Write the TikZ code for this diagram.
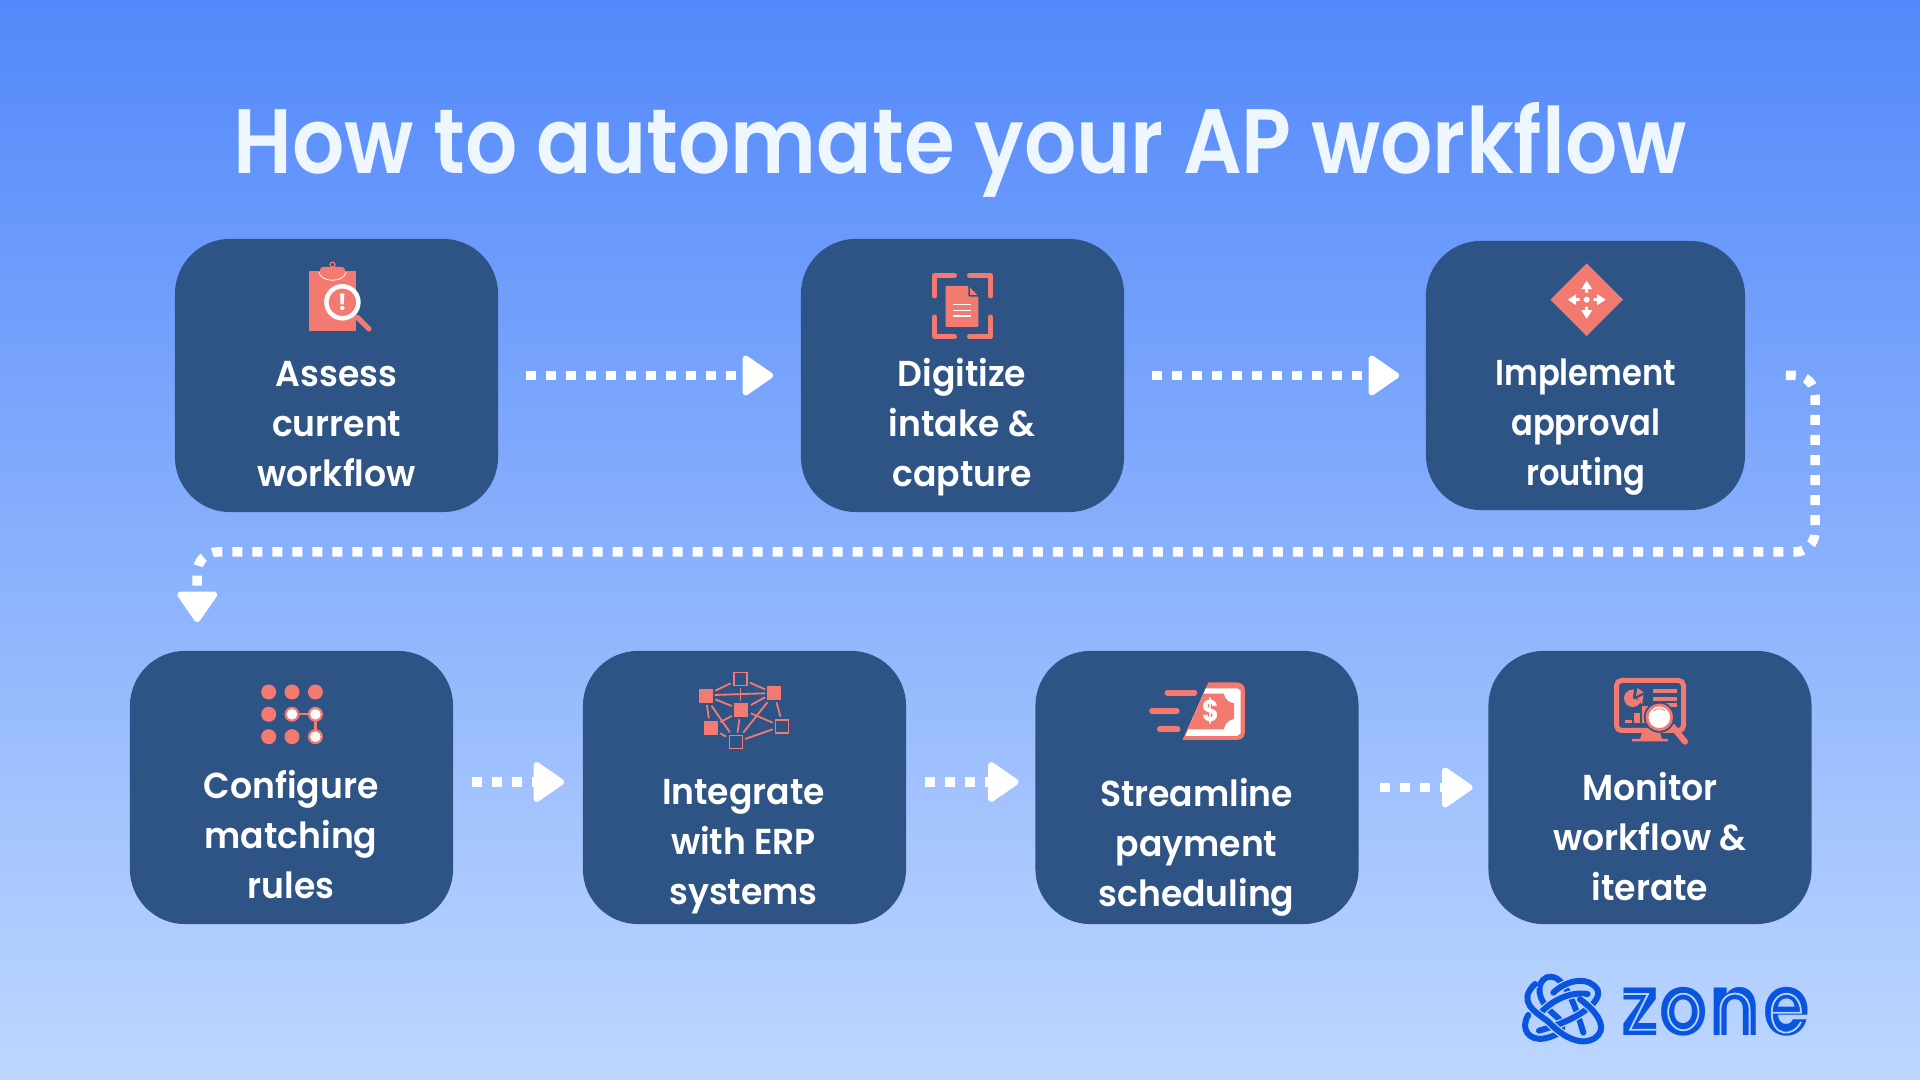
\documentclass[tikz,border=0pt]{standalone}
\usepackage{fontspec}
\setmainfont{Poppins}[UprightFont=* SemiBold,BoldFont=* Bold]
\usetikzlibrary{arrows.meta}
\definecolor{bgtop}{RGB}{82, 136, 250}
\definecolor{bgbot}{RGB}{190, 215, 255}
\definecolor{bglight}{RGB}{183, 211, 255}
\definecolor{boxblue}{RGB}{46, 84, 134}
\definecolor{coral}{RGB}{243, 122, 112}
\definecolor{titlewhite}{RGB}{238, 247, 255}
\definecolor{zoneblue}{RGB}{10, 85, 224}
\tikzset{
    stepbox/.style={fill=boxblue, rounded corners=0.55cm, inner sep=0, minimum width=3.23cm, minimum height=2.73cm},
    steplabel/.style={text=white, align=center, inner sep=0, font=\fontsize{10.25pt}{0.5cm}\selectfont, xscale=0.96},
    flow/.style={draw=white, line width=0.095cm, dash pattern=on 0.1cm off 0.1cm, -{Triangle[round,length=0.33cm,width=0.44cm,line width=0.06cm]}},
    iconline/.style={draw=coral, line width=0.05cm, line cap=round, line join=round},
    thinline/.style={draw=coral, line width=0.018cm},
    knotgap/.style={draw=bglight, line width=0.085cm},
    knotline/.style={draw=zoneblue, line width=0.06cm, line cap=round},
}
\begin{document}
\begin{tikzpicture}[x=0.01cm,y=-0.01cm]
    \useasboundingbox (0,0) rectangle (1920,1080);
    \shade[top color=bgtop, bottom color=bgbot] (0,0) rectangle (1920,1080);

    \node[text=titlewhite, anchor=base, inner sep=0, font=\fontsize{26pt}{30pt}\selectfont, xscale=0.897] (title) at (960,174) {How to automate your AP workflow};

    \node[stepbox] (assess) at (336.5,375.5) {};
    \node[stepbox] (digitize) at (962.5,375.5) {};
    \node[stepbox, minimum width=3.19cm, minimum height=2.69cm] (implement) at (1585.5,375.5) {};
    \node[stepbox] (configure) at (291.5,787.5) {};
    \node[stepbox] (integrate) at (744.5,787.5) {};
    \node[stepbox] (streamline) at (1197,787.5) {};
    \node[stepbox] (monitor) at (1650,787.5) {};

    \node[steplabel] (assesstext) at (336.7,424) {Assess\\current\\workflow};
    \node[steplabel] (digitizetext) at (962,427.5) {Digitize\\intake \&\\capture};
    \node[steplabel, xscale=0.93] (implementtext) at (1585.7,427) {Implement\\approval\\routing};
    \node[steplabel] (configuretext) at (291,835) {Configure\\matching\\rules};
    \node[steplabel] (integratetext) at (743.5,847) {Integrate\\with ERP\\systems};
    \node[steplabel] (streamlinetext) at (1196.5,847.5) {Streamline\\payment\\scheduling};
    \node[steplabel] (monitortext) at (1650,836.5) {Monitor\\workflow \&\\iterate};

    % connectors
    \draw[flow] ([xshift=0.27cm]assess.east) -- ([xshift=-0.27cm]digitize.west);
    \draw[flow] ([xshift=0.27cm]digitize.east) -- ([xshift=-0.26cm]implement.west);
    \coordinate (turnright) at (1815,552);
    \coordinate (turndown) at ([xshift=0.68cm,yshift=0.28cm]configure.north west);
    \draw[flow, rounded corners=0.2cm] ([xshift=0.4cm]implement.east) -| (turnright) -| (turndown);
    \draw[flow] ([xshift=0.18cm,yshift=0.055cm]configure.east) -- ([xshift=-0.18cm,yshift=0.055cm]integrate.west);
    \draw[flow] ([xshift=0.18cm,yshift=0.055cm]integrate.east) -- ([xshift=-0.16cm,yshift=0.055cm]streamline.west);
    \draw[flow] ([xshift=0.21cm]streamline.east) -- ([xshift=-0.15cm]monitor.west);

    % clipboard
    \fill[coral] (309,271) rectangle (355.5,331);
    \fill[coral, rounded corners=0.03cm] (320,267) rectangle (345,277);
    \draw[white, line width=0.008cm] (319,272) .. controls (320,283) and (345,283) .. (346,272);
    \draw[coral, line width=0.012cm] (332.6,264.7) circle (2.5);
    \draw[coral, line width=0.05cm, line cap=round] (357,317) -- (369,329);
    \draw[white, line width=0.045cm, fill=coral] (342.4,302.3) circle (16);
    \node[text=white, inner sep=0, font=\bfseries\fontsize{6.5pt}{8pt}\selectfont] (alert) at (342.4,302.3) {!};

    % scan
    \draw[iconline] (954.5,275.5) -- (934.5,275.5) -- (934.5,296);
    \draw[iconline] (969.5,275.5) -- (990.5,275.5) -- (990.5,296);
    \draw[iconline] (954.5,336.5) -- (934.5,336.5) -- (934.5,317);
    \draw[iconline] (969.5,336.5) -- (990.5,336.5) -- (990.5,317);
    \fill[coral, rounded corners=0.01cm] (945.7,286) -- (968.3,286) -- (968.3,296.7) -- (978.3,296.7) -- (978.3,327) -- (945.7,327) -- cycle;
    \fill[coral] (970,287.7) -- (977.3,295) -- (970,295) -- cycle;
    \foreach \y in {304.5,310.3,316}
        \draw[white, line width=0.012cm] (953,\y) -- (971,\y);

    % routing
    \fill[coral] (1586.7,263.4) -- (1623,299.7) -- (1586.7,336) -- (1550.4,299.7) -- cycle;
    \fill[white] (1586.7,299.7) circle (3);
    \foreach \a in {0,90,180,270}
        \fill[white, shift={(1586.7,299.7)}, rotate=\a] (0,-19) -- (5.5,-10.5) -- (1.5,-10.5) -- (1.5,-7) -- (-1.5,-7) -- (-1.5,-10.5) -- (-5.5,-10.5) -- cycle;

    % grid of dots
    \foreach \x in {268.7,292,315.4}
        \foreach \y in {692,714.3,736.7}
            \fill[coral] (\x,\y) circle (7.5);
    \draw[coral, line width=0.022cm] (292,714.3) -- (315.4,714.3) -- (315.4,736.7);
    \fill[white] (292,714.3) circle (5.3);
    \fill[white] (315.4,714.3) circle (5.3);
    \fill[white] (315.4,736.7) circle (5.3);

    % network
    \fill[coral] (698.7,688.7) rectangle (712.7,702.7);
    \fill[coral] (767.2,686) rectangle (781.2,700);
    \fill[coral] (734.3,703) rectangle (748.3,717);
    \fill[coral] (703.7,721) rectangle (717.7,735);
    \draw[thinline] (733.7,672.5) rectangle (746.7,685.5);
    \draw[thinline] (775.5,719.8) rectangle (788.5,732.8);
    \draw[thinline] (729.5,735.5) rectangle (742.5,748.5);
    \begin{scope}[shift={(240,660)},xscale=0.3827,yscale=0.3333]
        \foreach \a/\b/\c/\d in {1242/92/1282/70,1332/68/1372/88,1240/105/1372/100,1308/85/1308/122,1242/118/1285/138,1372/112/1335/135,1220/135/1225/175,1232/137/1280/217,1285/168/1255/186,1305/178/1300/218,1378/127/1315/218,1335/160/1392/188,1402/127/1412/170,1255/220/1270/230,1320/237/1392/208}
            \draw[thinline] (\a,\b) -- (\c,\d);
    \end{scope}

    % payment
    \begin{scope}[shift={(1130,660)},xscale=0.3827,yscale=0.3333]
        \draw[coral, line width=0.06cm, line cap=round] (98,98) -- (168,98);
        \draw[coral, line width=0.06cm, line cap=round] (58,153) -- (122,153);
        \draw[coral, line width=0.06cm, line cap=round] (78,208) -- (124,208);
        \fill[coral] (205,67) -- (275,67) .. controls (292,67) and (300,75) .. (300,90) -- (300,218) .. controls (300,232) and (292,240) .. (275,240) -- (137,240) -- cycle;
        \fill[white] (198,85) -- (280,85) -- (289,92) -- (289,220) -- (280,228) -- (145,228) -- cycle;
        \fill[coral] (192,101) -- (245,101) .. controls (248,118) and (258,128) .. (272,130) -- (272,177) .. controls (258,180) and (248,190) .. (245,208) -- (152,208) -- cycle;
    \end{scope}
    \node[text=white, inner sep=0, font=\bfseries\fontsize{8.5pt}{10pt}\selectfont, xscale=0.85] (dollar) at (1210.4,711) {\$};

    % monitor
    \draw[coral, line width=0.05cm, rounded corners=0.05cm] (1616.5,680.5) rectangle (1683.5,730.5);
    \fill[coral] (1642,733) -- (1660,733) -- (1662,739) -- (1668,739) -- (1668,741.5) -- (1632,741.5) -- (1632,739) -- (1640,739) -- cycle;
    \fill[coral] (1625,720) rectangle (1632,723.5);
    \fill[coral] (1633.5,713) rectangle (1640,723.5);
    \fill[coral] (1642,706) rectangle (1648.5,723.5);
    \foreach \y in {689,696.7,703.5}
        \fill[coral] (1653,\y) rectangle (1677,\y+4);
    \fill[coral] (1632.7,698.3) circle (8.7);
    \fill[boxblue] (1632.7,698.3) -- (1635,686) -- (1648,686) -- (1648,703) -- cycle;
    \fill[coral] (1636,696) -- (1637.5,688) -- (1643.5,692.5) -- cycle;
    \fill[coral] (1637,698.5) -- (1643.5,695) -- (1642,704.5) -- cycle;
    \draw[coral, line width=0.06cm, line cap=round] (1672.7,726.7) -- (1685,741.7);
    \fill[boxblue] (1659.3,717.3) circle (15.5);
    \draw[coral, line width=0.028cm, fill=white] (1659.3,717.3) circle (12.3);
    \draw[coral, line width=0.008cm] (1653,711) .. controls (1656,708) and (1662,708) .. (1665,710.5);

    % logo
    \begin{scope}[shift={(1515,970)},scale=0.3333]
        \foreach \p in {
            {(105,122) .. controls (70,90) and (60,40) .. (95,22) .. controls (130,10) and (165,50) .. (205,188)},
            {(40,135) .. controls (15,175) and (40,215) .. (90,205) .. controls (130,197) and (160,175) .. (130,145) -- (108,125)},
            {(115,68) .. controls (160,25) and (225,20) .. (248,60) .. controls (262,95) and (190,150) .. (72,182)},
            {(80,125) .. controls (120,85) and (170,65) .. (218,72)},
            {(195,88) .. controls (240,120) and (275,165) .. (250,195) .. controls (225,225) and (165,225) .. (100,155) .. controls (60,125) and (5,95) .. (60,42)}
        } {
            \draw[knotgap] \p;
            \draw[knotline] \p;
        }
    \end{scope}
    \node[text=zoneblue, anchor=base west, inner sep=0, font=\bfseries\fontsize{24.2pt}{28pt}\selectfont, xscale=0.89] (zone) at (1620.5,1036) {z\kern0.3pt o\kern0.6pt n\kern0.8pt e};
    \draw[bglight, line width=0.018cm] (1623.3,994) -- (1648,994) -- (1630,1029.8) -- (1656.3,1029.8);
    \draw[bglight, line width=0.018cm] (1683.3,1012) ellipse (15.2 and 18.3);
    \draw[bglight, line width=0.018cm] (1720.4,1036) -- (1720.4,1010) .. controls (1720.4,988) and (1749.6,988) .. (1749.6,1010) -- (1749.6,1036);
    \draw[bglight, line width=0.018cm] (1771.7,1012.7) -- (1801,1012.7) .. controls (1801,987.5) and (1771.7,987.5) .. (1771.7,1012.7) .. controls (1771.7,1037) and (1793,1038) .. (1801,1022);
\end{tikzpicture}
\end{document}
